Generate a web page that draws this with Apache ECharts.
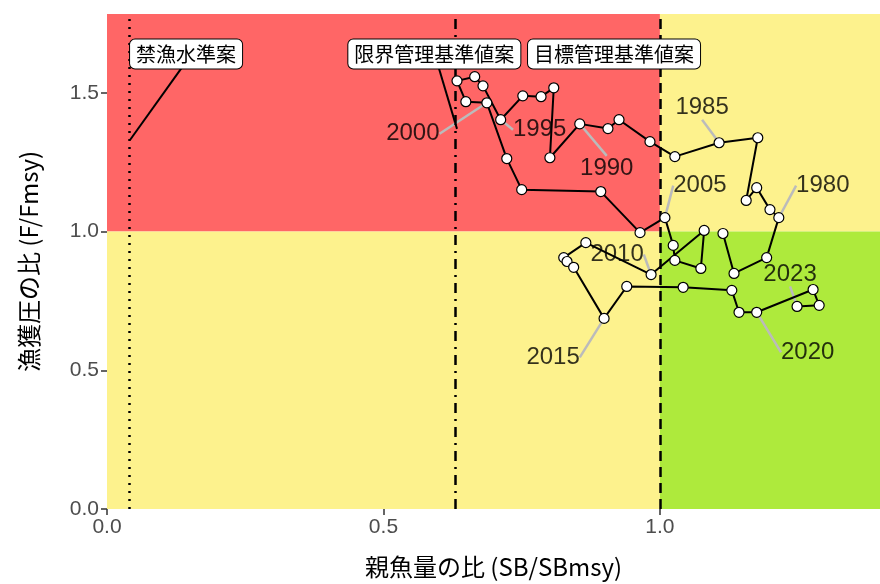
<!DOCTYPE html>
<html><head><meta charset="utf-8">
<script src="https://cdn.jsdelivr.net/npm/echarts@6/dist/echarts.min.js"></script>
<style>html,body{margin:0;padding:0;background:#fff}#main{width:880px;height:584px}</style>
</head><body><div id="main"></div>
<script>
var years = [];
for (var yr = 1977; yr <= 2023; yr++) years.push(yr);
var sbRatio = [1.114,1.134,1.193,1.215,1.199,1.175,1.156,1.177,1.107,1.027,0.982,0.926,0.906,0.855,
  0.801,0.808,0.785,0.752,0.712,0.680,0.665,0.633,0.649,0.687,0.723,0.750,0.893,0.964,1.009,
  1.024,1.027,1.074,1.080,0.984,0.866,0.826,0.832,0.844,0.899,0.940,1.042,1.130,1.143,1.175,
  1.277,1.288,1.248];
var fRatio = [0.993,0.849,0.906,1.050,1.079,1.158,1.112,1.338,1.320,1.270,1.324,1.403,1.371,1.388,
  1.266,1.518,1.486,1.489,1.403,1.525,1.558,1.543,1.468,1.464,1.263,1.151,1.144,0.996,1.050,
  0.950,0.896,0.867,1.004,0.845,0.960,0.906,0.892,0.871,0.687,0.802,0.799,0.788,0.709,0.709,
  0.791,0.734,0.730];
var labelYears = [1980,1985,1990,1995,2000,2005,2010,2015,2020,2023];
// label offsets in px (style only)
var labelOffsets = {1980:[44,-32],1985:[-17,-35],1990:[27,44],1995:[39,10],2000:[-74,31],
  2005:[35,-32],2010:[-34,-20],2015:[-51,39],2020:[51,40],2023:[-7,-32]};
var refNames = ['禁漁水準案','限界管理基準値案','目標管理基準値案'];
var refX = [0.0416, 0.633, 1.0];
var refLabelPos = [[0.143,1.64],[0.592,1.64],[0.917,1.64]];
var leaders = [[[0.0416,1.33],[0.135,1.59]], [[0.633,1.37],[0.6,1.59]]];

var X_MAX = 1.398, Y_MAX = 1.784;
var pts = years.map(function (y, i) { return [sbRatio[i], fRatio[i], y]; });

var chart = echarts.init(document.getElementById('main'));
var series = [{
  type: 'line', data: pts, symbol: 'circle', symbolSize: 10,
  lineStyle: {color: '#000', width: 2},
  itemStyle: {color: '#fff', borderColor: '#000', borderWidth: 1.2},
  z: 5,
  markArea: {silent: true, data: [
    [{xAxis: 0, yAxis: 1, itemStyle: {color: '#ff6666'}}, {xAxis: 1, yAxis: Y_MAX}],
    [{xAxis: 1, yAxis: 1, itemStyle: {color: '#fdf28d'}}, {xAxis: X_MAX, yAxis: Y_MAX}],
    [{xAxis: 0, yAxis: 0, itemStyle: {color: '#fdf28d'}}, {xAxis: 1, yAxis: 1}],
    [{xAxis: 1, yAxis: 0, itemStyle: {color: '#aeea3c'}}, {xAxis: X_MAX, yAxis: 1}]
  ]},
  markLine: {silent: true, symbol: 'none', label: {show: false}, data: [
    {xAxis: refX[0], lineStyle: {type: [2, 6], color: '#000', width: 2.5}},
    {xAxis: refX[1], lineStyle: {type: [10, 6, 2, 6], color: '#000', width: 2.5}},
    {xAxis: refX[2], lineStyle: {type: [10, 6], color: '#000', width: 2.5}}
  ]}
}, {
  type: 'scatter', data: pts.filter(function (p) { return labelYears.indexOf(p[2]) >= 0; }),
  symbolSize: 1, itemStyle: {color: 'rgba(0,0,0,0)'}, z: 4,
  label: {show: true, formatter: function (p) { return p.data[2]; }, fontSize: 24,
    color: '#000', fontFamily: 'Liberation Sans, Arial'},
  labelLine: {show: true, lineStyle: {color: '#bbb', width: 2.5}},
  labelLayout: function (p) {
    var o = labelOffsets[labelYears[p.dataIndex]];
    return {dx: o[0], dy: o[1]};
  }
}];
leaders.forEach(function (l) {
  series.push({type: 'line', data: l, symbol: 'none', lineStyle: {color: '#000', width: 2}, z: 3, silent: true});
});
series.push({
  type: 'scatter', symbolSize: 1, z: 10, silent: true,
  itemStyle: {color: '#fff', opacity: 1},
  data: refLabelPos.map(function (p, i) { return {value: p, name: refNames[i]}; }),
  label: {show: true, position: 'inside', formatter: '{b}', fontSize: 20, color: '#000',
    fontFamily: 'Noto Sans CJK JP', backgroundColor: '#ffffff', opacity: 1,
    borderColor: '#000', borderWidth: 1,
    borderRadius: 5, padding: [5, 6, 4, 6]}
});

chart.setOption({
  animation: false,
  grid: {left: 107, right: 0, top: 14, bottom: 74},
  xAxis: {type: 'value', min: 0, max: X_MAX, interval: 0.5,
    name: '親魚量の比 (SB/SBmsy)', nameLocation: 'middle', nameGap: 46,
    nameTextStyle: {fontSize: 24, color: '#000', fontFamily: 'Noto Sans CJK JP'},
    axisLine: {show: false}, splitLine: {show: false},
    axisTick: {show: true, length: 6, lineStyle: {color: '#333', width: 1.5}},
    axisLabel: {fontSize: 21, color: '#4d4d4d', showMaxLabel: false,
      formatter: function (v) { return v.toFixed(1); }}},
  yAxis: {type: 'value', min: 0, max: Y_MAX, interval: 0.5,
    name: '漁獲圧の比 (F/Fmsy)', nameLocation: 'middle', nameGap: 66,
    nameTextStyle: {fontSize: 24, color: '#000', fontFamily: 'Noto Sans CJK JP'},
    axisLine: {show: false}, splitLine: {show: false},
    axisTick: {show: true, length: 6, lineStyle: {color: '#333', width: 1.5}},
    axisLabel: {fontSize: 21, color: '#4d4d4d', showMaxLabel: false,
      formatter: function (v) { return v.toFixed(1); }}},
  series: series
});
</script></body></html>
